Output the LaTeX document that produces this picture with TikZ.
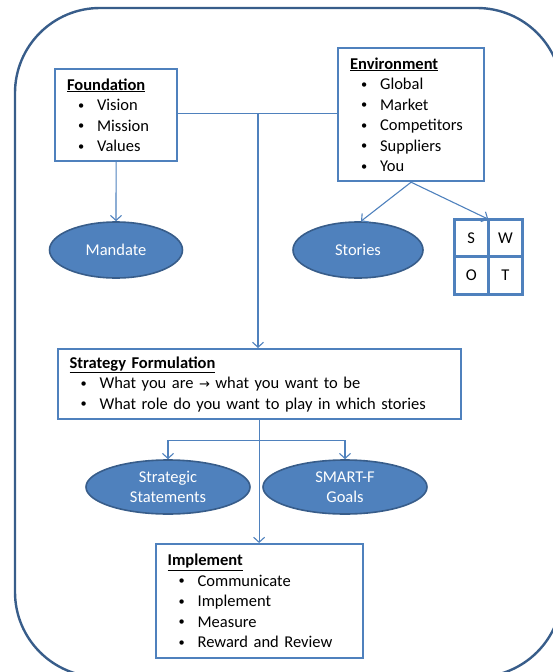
\documentclass[tikz,border=0pt]{standalone}
\usepackage{fontspec}
\setmainfont{Carlito}
\usepackage{tikz}
\usetikzlibrary{arrows.meta}
\usetikzlibrary{shapes.geometric}
\usetikzlibrary{positioning}

\definecolor{boxblue}{HTML}{4F81BD}
\definecolor{darkblue}{HTML}{385D8A}

\newcommand{\itm}[1]{\\\hspace*{11pt}\makebox[19pt][l]{\raisebox{0.2ex}{\scalebox{0.75}{\textbullet}}}#1}
\newcommand{\ttl}[1]{\underline{\textbf{#1}}}

\tikzset{
	listbox/.style={draw=boxblue, line width=2.2pt, fill=white, anchor=north west,
		align=left, inner xsep=12pt, inner ysep=0pt, text width=#1-24pt, minimum height=20pt},
	bubble/.style={ellipse, draw=darkblue, line width=1.6pt, fill=boxblue, text=white,
		align=center, inner sep=0pt},
	cell/.style={draw=boxblue, line width=1.6pt, minimum width=32.5pt, minimum height=36pt, inner sep=0pt},
	conn/.style={draw=boxblue, line width=1.1pt},
	arr/.style={conn, -{Straight Barb[length=5pt,width=11pt]}},
}

\begin{document}
\begin{tikzpicture}[x=1pt, y=-1pt, font=\fontsize{16.5}{20.5}\selectfont]
	\useasboundingbox (0,0) rectangle (553,672);
	\clip (0,0) rectangle (553,672);
	% outer frame
	\draw[darkblue, line width=2.4pt, rounded corners=85pt] (15,8) rectangle (562,677);

	% boxes
	\node[listbox=122pt, minimum height=92pt] (fnd) at (54,68)
		{\ttl{Foundation}\itm{Vision}\itm{Mission}\itm{Values}};
	\node[listbox=146pt, minimum height=133pt] (env) at (337,47)
		{\ttl{Environment}\itm{Global}\itm{Market}\itm{Competitors}\itm{Suppliers}\itm{You}};
	\node[listbox=403pt, minimum height=70pt] (strat) at (56.5,348)
		{\ttl{Strategy Formulation}\itm{What you are {\fontspec{DejaVu Sans}\fontsize{13}{20.5}\selectfont →} what you want to be}\itm{What role do you want to play in which stories}};
	\node[listbox=207pt, minimum height=114pt] (impl) at (154.5,543)
		{\ttl{Implement}\itm{Communicate}\itm{Implement}\itm{Measure}\itm{Reward and Review}};

	% ellipses
	\node[bubble, minimum width=133pt, minimum height=56pt] (mand) at (116,250) {Mandate};
	\node[bubble, minimum width=130pt, minimum height=56pt] (story) at (358,250) {Stories};
	\node[bubble, minimum width=164pt, minimum height=54pt] (stst) at (168,487) {Strategic\\Statements};
	\node[bubble, minimum width=164pt, minimum height=54pt] (smart) at (345,487) {SMART-F\\Goals};

	% swot grid
	\node[cell] (s) at (471.25,238) {S};
	\node[cell, right=0pt of s] (w) {W};
	\node[cell, below=0pt of s] (o) {O};
	\node[cell, right=0pt of o] (t) {T};
	\draw[boxblue, line width=2.2pt] (s.north west) rectangle (t.south east);

	% connectors
	\coordinate (j1) at (258,113.5);
	\draw[conn] (fnd.east |- j1) -- (env.west |- j1);
	\draw[arr] (j1) -- (j1 |- strat.north);
	\draw[arr] (fnd.south) -- (mand.north);
	\draw[arr] (env.south) -- ([xshift=3pt]story.north);
	\draw[arr] (env.south) -- (s.north east);
	\coordinate (j2) at ([yshift=-20pt]strat.south);
	\draw[arr] (strat.south) -- (impl.north);
	\draw[arr] (j2) -| (stst.north);
	\draw[arr] (j2) -| (smart.north);
\end{tikzpicture}
\end{document}
